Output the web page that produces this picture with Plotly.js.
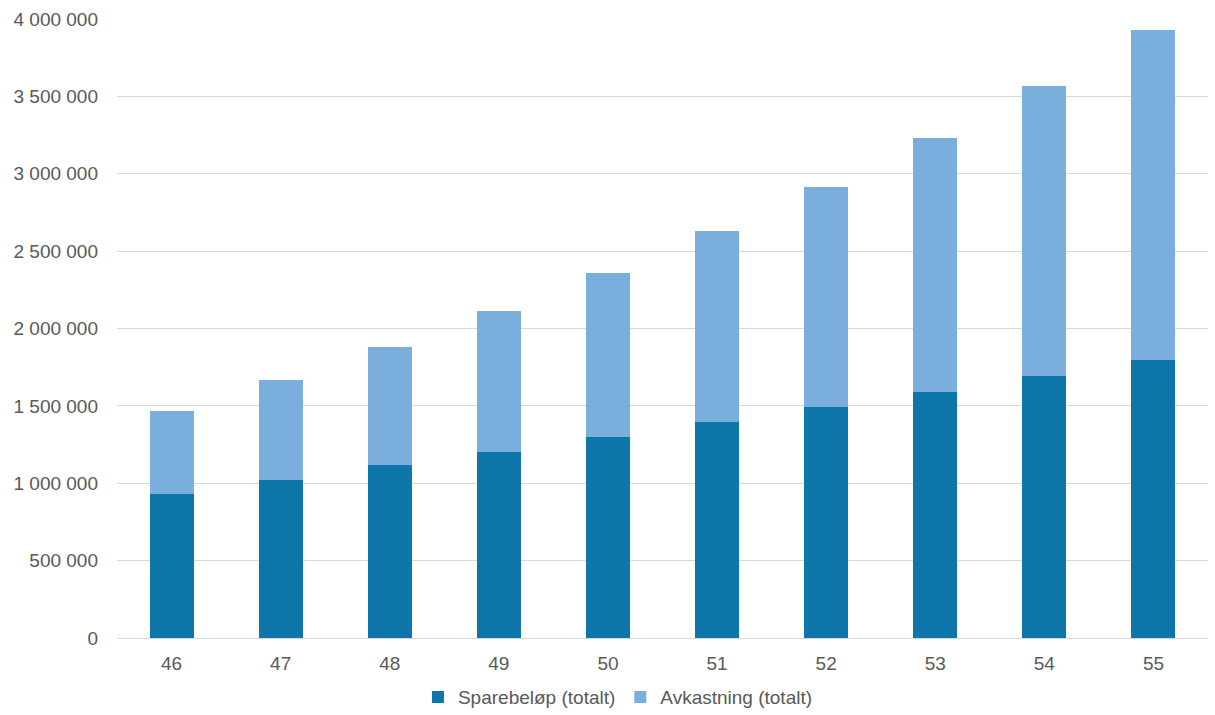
<!DOCTYPE html>
<html>
<head>
<meta charset="utf-8">
<script src="https://cdn.plot.ly/plotly-3.0.1.min.js"></script>
<style>html,body{margin:0;padding:0;background:#fff;}#chart{width:1215px;height:715px;}</style>
</head>
<body>
<div id="chart"></div>
<script>
const ages = ["46","47","48","49","50","51","52","53","54","55"];
const sparebelop = [931000, 1023000, 1115000, 1205000, 1300000, 1396000, 1492000, 1590000, 1693000, 1797000];
const avkastning = [536000, 645000, 765000, 908000, 1059000, 1234000, 1422000, 1641000, 1874000, 2134000];
const yTicks = [0, 500000, 1000000, 1500000, 2000000, 2500000, 3000000, 3500000, 4000000];
const yTickText = ["0", "500 000", "1 000 000", "1 500 000", "2 000 000", "2 500 000", "3 000 000", "3 500 000", "4 000 000"];

const data = [
  {type: "bar", name: "Sparebeløp (totalt)", x: ages, y: sparebelop, marker: {color: "#0F76AA"}},
  {type: "bar", name: "Avkastning (totalt)", x: ages, y: avkastning, marker: {color: "#7AAFDD"}}
];
const layout = {
  width: 1215, height: 715,
  barmode: "stack", bargap: 0.597,
  margin: {l: 117, r: 7, t: 19, b: 77, autoexpand: false},
  paper_bgcolor: "#fff", plot_bgcolor: "#fff",
  font: {family: "Liberation Sans, Arial, sans-serif", size: 19, color: "#595959"},
  showlegend: true,
  legend: {orientation: "h", xref: "container", yref: "container", x: 0.5086, xanchor: "center", y: 0.025, yanchor: "middle", font: {size: 19, color: "#595959"}, traceorder: "normal", itemwidth: 30},
  xaxis: {type: "category", showgrid: false, showline: true, linecolor: "#d9d9d9", linewidth: 1, ticks: "", ticklabelstandoff: 8, automargin: false, tickfont: {size: 19, color: "#595959"}},
  yaxis: {range: [0, 4000000], tickvals: yTicks, ticktext: yTickText, showgrid: true, gridcolor: "#d9d9d9", gridwidth: 1, zeroline: false, showline: false, ticks: "", ticklabelstandoff: 18, automargin: false, tickfont: {size: 19, color: "#595959"}},
  hovermode: false
};
Plotly.newPlot("chart", data, layout, {displayModeBar: false, staticPlot: true});
</script>
</body>
</html>
